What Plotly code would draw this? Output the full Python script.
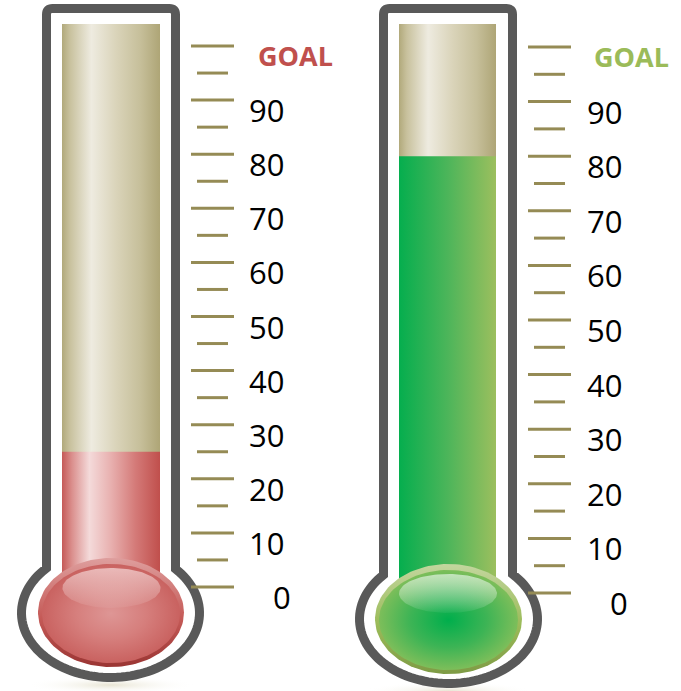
import numpy as np
import plotly.graph_objects as go

# ---------------- data ----------------
thermometers = ["Left", "Right"]
current_values = [25, 80]
goal_value = 100
major_ticks = [0, 10, 20, 30, 40, 50, 60, 70, 80, 90, 100]
minor_ticks = [5, 15, 25, 35, 45, 55, 65, 75, 85, 95]
tick_labels = ["0", "10", "20", "30", "40", "50", "60", "70", "80", "90", "GOAL"]
goal_label_colors = ["#C0504D", "#9BBB59"]

# ---------------- styling / geometry (pixels) ----------------
W, H = 681, 691
FONT = "Open Sans"
geo = [
    dict(zero=587, unit=5.41, frame_l=46.5, frame_r=175.5, frame_top=8.5,
         bulb_cx=110.5, bulb_cy=613, bulb_rx=89, bulb_ry=64.5,
         tube_l=62, tube_r=160, tube_top=24,
         ball_cx=111, ball_cy=612.5, ball_rx=73, ball_ry=54.5,
         hl_cx=111.5, hl_cy=588, hl_rx=49, hl_ry=20,
         tick_major=(191, 234), tick_minor=(197, 228),
         label_x=266.5, label0_x=281.5, goal_x=295),
    dict(zero=593, unit=5.46, frame_l=383.5, frame_r=512.5, frame_top=8.5,
         bulb_cx=448.5, bulb_cy=619, bulb_rx=89, bulb_ry=64.5,
         tube_l=399, tube_r=496, tube_top=24,
         ball_cx=448.5, ball_cy=619, ball_rx=73.5, ball_ry=55,
         hl_cx=448, hl_cy=593.5, hl_rx=49, hl_ry=19.5,
         tick_major=(528, 571), tick_minor=(534, 565),
         label_x=604, label0_x=618.5, goal_x=631.5),
]

tan_scale = [[0, "#B1A97B"], [0.08, "#C8C19D"], [0.3, "#EEEBE0"], [0.55, "#DAD4BA"],
             [0.8, "#C6BF9A"], [1, "#AEA576"]]
fill_scales = [
    [[0, "#C55A57"], [0.1, "#DA8E8C"], [0.28, "#F4DADA"], [0.5, "#E8B0AF"],
     [0.75, "#D47A78"], [1, "#C04F4C"]],
    [[0, "#05AE4E"], [0.5, "#4CB55A"], [1, "#9CBF5E"]],
]
rim_scales = [
    [[0, "#9A3533"], [0.45, "#C55A57"], [1, "#DE9E9D"]],
    [[0, "#7E9B45"], [0.45, "#9BBB59"], [1, "#C3D69E"]],
]
body_scales = [
    [[0, "#DE9695"], [0.5, "#D67F7D"], [1, "#C96260"]],
    [[0, "#00AE4C"], [0.55, "#3DB455"], [1, "#7DBE5A"]],
]
hl_scales = [
    [[0, "rgba(255,255,255,0.05)"], [1, "rgba(255,240,240,0.6)"]],
    [[0, "rgba(255,255,255,0.05)"], [1, "rgba(230,245,230,0.7)"]],
]

fig = go.Figure()
axes = ["y", "y2"]


def to_val(g, py):
    return (g["zero"] - np.asarray(py, dtype=float)) / g["unit"]


def ellipse(g, cx, cy, rx, ry, n=120):
    t = np.linspace(0, 2 * np.pi, n)
    return cx + rx * np.cos(t), to_val(g, cy + ry * np.sin(t))


shapes = []
annotations = []
for i, g in enumerate(geo):
    ya = axes[i]
    # soft shadow under bulb
    sx, sy = ellipse(g, g["bulb_cx"], g["bulb_cy"] + 72, 85, 9)
    fig.add_trace(go.Scatter(x=sx, y=sy, yaxis=ya, mode="lines", line=dict(width=0),
                             fill="toself", fillgradient=dict(type="radial", colorscale=[
                                 [0, "rgba(190,180,130,0.35)"], [1, "rgba(255,255,255,0)"]]),
                             hoverinfo="skip"))
    # empty tube (tan)
    tb = to_val(g, 590)
    tt = to_val(g, g["tube_top"])
    fig.add_trace(go.Scatter(x=[g["tube_l"], g["tube_r"], g["tube_r"], g["tube_l"], g["tube_l"]],
                             y=[tb, tb, tt, tt, tb], yaxis=ya, mode="lines", line=dict(width=0),
                             fill="toself",
                             fillgradient=dict(type="horizontal", colorscale=tan_scale),
                             hoverinfo="skip"))
    # current value fill
    v = current_values[i]
    fig.add_trace(go.Scatter(x=[g["tube_l"], g["tube_r"], g["tube_r"], g["tube_l"], g["tube_l"]],
                             y=[0, 0, v, v, 0], yaxis=ya, mode="lines", line=dict(width=0),
                             fill="toself", name=thermometers[i],
                             fillgradient=dict(type="horizontal", colorscale=fill_scales[i]),
                             hoverinfo="skip"))
    # bulb rim
    ex, ey = ellipse(g, g["ball_cx"], g["ball_cy"], g["ball_rx"], g["ball_ry"])
    fig.add_trace(go.Scatter(x=ex, y=ey, yaxis=ya, mode="lines", line=dict(width=0),
                             fill="toself",
                             fillgradient=dict(type="vertical", colorscale=rim_scales[i]),
                             hoverinfo="skip"))
    # bulb body
    ex, ey = ellipse(g, g["ball_cx"], g["ball_cy"] + 1, g["ball_rx"] - 4, g["ball_ry"] - 5)
    fig.add_trace(go.Scatter(x=ex, y=ey, yaxis=ya, mode="lines", line=dict(width=0),
                             fill="toself",
                             fillgradient=dict(type="radial", colorscale=body_scales[i]),
                             hoverinfo="skip"))
    # highlight
    ex, ey = ellipse(g, g["hl_cx"], g["hl_cy"], g["hl_rx"], g["hl_ry"])
    fig.add_trace(go.Scatter(x=ex, y=ey, yaxis=ya, mode="lines", line=dict(width=0),
                             fill="toself",
                             fillgradient=dict(type="vertical", colorscale=hl_scales[i]),
                             hoverinfo="skip"))

    # outer glass frame
    cx, cy, rx, ry = g["bulb_cx"], g["bulb_cy"], g["bulb_rx"], g["bulb_ry"]
    th_r = -np.arccos((g["frame_r"] - cx) / rx)
    th_l = 2 * np.pi - np.arccos((g["frame_l"] - cx) / rx)
    th = np.linspace(th_r, th_l, 90)
    arc_x = cx + rx * np.cos(th)
    arc_y = cy + ry * np.sin(th)
    jy = arc_y[0]
    r = 6
    ft = g["frame_top"]
    path = f"M {g['frame_l']},{to_val(g, arc_y[-1])} L {g['frame_l']},{to_val(g, ft + r)} "
    path += f"Q {g['frame_l']},{to_val(g, ft)} {g['frame_l'] + r},{to_val(g, ft)} "
    path += f"L {g['frame_r'] - r},{to_val(g, ft)} "
    path += f"Q {g['frame_r']},{to_val(g, ft)} {g['frame_r']},{to_val(g, ft + r)} "
    path += f"L {g['frame_r']},{to_val(g, jy)} "
    for ax_, ay_ in zip(arc_x[1:], arc_y[1:]):
        path += f"L {ax_:.2f},{to_val(g, ay_):.4f} "
    path += "Z"
    shapes.append(dict(type="path", path=path, xref="x", yref=ya,
                       line=dict(color="#595959", width=9), fillcolor="rgba(0,0,0,0)",
                       layer="above"))

    # ticks
    for t in major_ticks:
        shapes.append(dict(type="line", xref="x", yref=ya, x0=g["tick_major"][0],
                           x1=g["tick_major"][1], y0=t, y1=t,
                           line=dict(color="#958B55", width=3), layer="above"))
    for t in minor_ticks:
        shapes.append(dict(type="line", xref="x", yref=ya, x0=g["tick_minor"][0],
                           x1=g["tick_minor"][1], y0=t, y1=t,
                           line=dict(color="#958B55", width=3), layer="above"))
    # labels
    for t, lab in zip(major_ticks, tick_labels):
        if lab == "GOAL":
            annotations.append(dict(x=g["goal_x"], y=t, xref="x", yref=ya, text="<b>GOAL</b>",
                                    showarrow=False, xanchor="center", yanchor="middle",
                                    yshift=-9, font=dict(family=FONT, size=27,
                                                         color=goal_label_colors[i])))
        else:
            lx = g["label0_x"] if t == 0 else g["label_x"]
            annotations.append(dict(x=lx, y=t, xref="x", yref=ya, text=lab,
                                    showarrow=False, xanchor="center", yanchor="middle",
                                    yshift=-10, font=dict(family=FONT, size=31, color="black")))

g0, g1 = geo
fig.update_layout(
    width=W, height=H, margin=dict(l=0, r=0, t=0, b=0),
    paper_bgcolor="white", plot_bgcolor="white", showlegend=False,
    xaxis=dict(range=[0, W], visible=False, fixedrange=True),
    yaxis=dict(range=[(g0["zero"] - H) / g0["unit"], g0["zero"] / g0["unit"]], visible=False,
               fixedrange=True),
    yaxis2=dict(range=[(g1["zero"] - H) / g1["unit"], g1["zero"] / g1["unit"]], visible=False,
                overlaying="y", fixedrange=True),
    shapes=shapes, annotations=annotations,
)

fig.write_html("out.html")
